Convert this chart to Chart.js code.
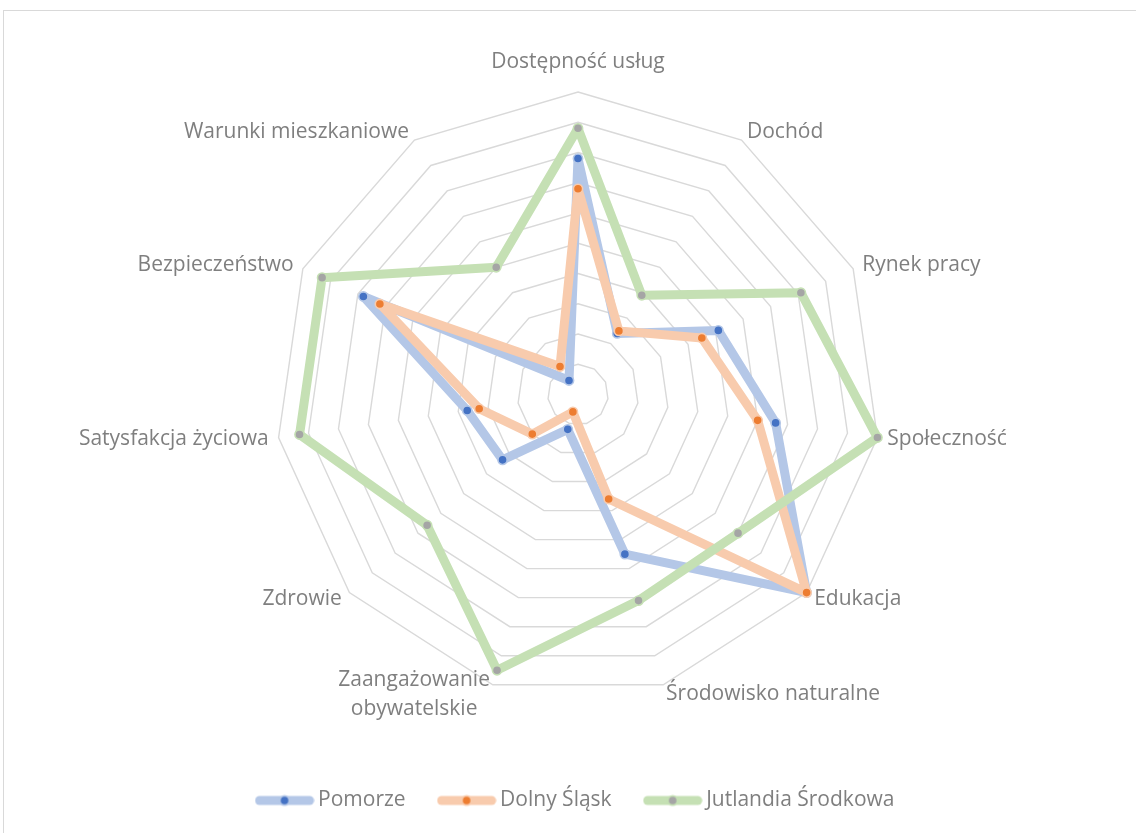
<!DOCTYPE html>
<html lang="pl">
<head>
<meta charset="utf-8">
<title>Radar</title>
<script src="https://cdn.jsdelivr.net/npm/chart.js@4/dist/chart.umd.min.js"></script>
<style>
    html, body { margin: 0; padding: 0; background: #fff; overflow: hidden; }
    #frame {
        position: absolute;
        left: 3px;
        top: 10px;
        width: 1150px;
        height: 840px;
        border: 1px solid #d9d9d9;
        box-sizing: border-box;
    }
    #radar { display: block; }
</style>
</head>
<body>
<div id="frame"><canvas id="radar" width="1148" height="838"></canvas></div>
<script>
const categories = [
    "Dostępność usług",
    "Dochód",
    "Rynek pracy",
    "Społeczność",
    "Edukacja",
    "Środowisko naturalne",
    ["Zaangażowanie", "obywatelskie"],
    "Zdrowie",
    "Satysfakcja życiowa",
    "Bezpieczeństwo",
    "Warunki mieszkaniowe",
];
const seriesNames = ["Pomorze", "Dolny Śląsk", "Jutlandia Środkowa"];
const pomorze = [7.8, 2.4, 5.1, 6.6, 10, 5.5, 1.2, 3.3, 3.7, 7.8, 0.55];
const dolnySlask = [6.8, 2.5, 4.5, 6.0, 10, 3.6, 0.6, 2.0, 3.3, 7.2, 1.1];
const jutlandia = [8.8, 3.9, 8.1, 10, 7.0, 7.1, 9.5, 6.6, 9.3, 9.3, 5.0];
const scaleMin = 0;
const scaleMax = 10;

const textColor = "#7f7f7f";
const fontFamily = '"Open Sans", "Noto Sans", sans-serif';
const fontSize = 21;

// radar geometry (canvas px)
const CENTER_Y = 383.5;
const RADIUS = 302.5;

// line + marker icon like the Excel legend
function legendIcon(lineColor, dotColor) {
    const c = document.createElement("canvas");
    c.width = 60;
    c.height = 14;
    const g = c.getContext("2d");
    g.strokeStyle = lineColor;
    g.lineWidth = 9;
    g.lineCap = "round";
    g.beginPath();
    g.moveTo(5, 7);
    g.lineTo(55, 7);
    g.stroke();
    g.fillStyle = lineColor;
    g.beginPath();
    g.arc(30, 7, 5.5, 0, Math.PI * 2);
    g.fill();
    g.fillStyle = dotColor;
    g.beginPath();
    g.arc(30, 7, 3.8, 0, Math.PI * 2);
    g.fill();
    return c;
}

// category labels placed around the outer ring
const axisLabels = {
    id: "axisLabels",
    afterDraw(chart) {
        const scale = chart.scales.r;
        const ctx = chart.ctx;
        const lineH = 29;
        ctx.save();
        ctx.font = fontSize + "px " + fontFamily;
        ctx.fillStyle = textColor;
        ctx.textAlign = "center";
        ctx.textBaseline = "middle";
        chart.data.labels.forEach((label, i) => {
            const angle = scale.getIndexAngle(i);
            const sin = Math.sin(angle);
            const cos = Math.cos(angle);
            const isTop = cos > 0.95;
            const pos = scale.getPointPosition(i, scale.drawingArea + (isTop ? 30 : 10));
            const lines = [].concat(label);
            const w = Math.max(...lines.map((l) => ctx.measureText(l).width));
            let left = pos.x - w / 2;
            if (sin > 0.05) left = pos.x;
            else if (sin < -0.05) left = pos.x - w;
            const top = pos.y - (lines.length * lineH) / 2;
            lines.forEach((l, k) => {
                ctx.fillText(l, left + w / 2, top + lineH * (k + 0.5));
            });
        });
        ctx.restore();
    },
};

const styles = [
    { line: "#b4c7e7", dot: "#4472c4" },
    { line: "#f8cbad", dot: "#ed7d31" },
    { line: "#c5e0b4", dot: "#a5a5a5" },
];
const values = [pomorze, dolnySlask, jutlandia];

const datasets = values.map((data, i) => ({
    label: seriesNames[i],
    data: data,
    order: values.length - i, // later series drawn on top
    fill: false,
    borderColor: styles[i].line,
    backgroundColor: styles[i].line,
    borderWidth: 9,
    borderJoinStyle: "round",
    borderCapStyle: "round",
    pointRadius: 4.6,
    pointBorderWidth: 1.6,
    pointBackgroundColor: styles[i].dot,
    pointBorderColor: styles[i].line,
    pointHoverRadius: 4.6,
}));

new Chart(document.getElementById("radar"), {
    type: "radar",
    data: {
        labels: categories,
        datasets: datasets,
    },
    options: {
        responsive: false,
        animation: false,
        layout: {
            padding: { top: 0, left: 0, right: 0, bottom: 28 },
        },
        scales: {
            r: {
                min: scaleMin,
                max: scaleMax,
                ticks: { display: false, stepSize: 1 },
                grid: { color: "#d9d9d9", lineWidth: 1.4, circular: false },
                angleLines: { display: false },
                pointLabels: { display: false },
                afterFit: function (scale) {
                    scale.xCenter = scale.left + scale.width / 2;
                    scale.yCenter = CENTER_Y;
                    scale.drawingArea = RADIUS;
                },
            },
        },
        plugins: {
            tooltip: { enabled: false },
            legend: {
                position: "bottom",
                labels: {
                    color: textColor,
                    font: { family: fontFamily, size: fontSize },
                    usePointStyle: true,
                    pointStyleWidth: 46,
                    padding: 38,
                    generateLabels: function (chart) {
                        return chart.data.datasets.map((ds, i) => ({
                            text: ds.label,
                            pointStyle: legendIcon(styles[i].line, styles[i].dot),
                            fillStyle: styles[i].line,
                            strokeStyle: styles[i].line,
                            lineWidth: 0,
                            fontColor: textColor,
                            hidden: false,
                            datasetIndex: i,
                        }));
                    },
                },
            },
        },
    },
    plugins: [axisLabels],
});
</script>
</body>
</html>
